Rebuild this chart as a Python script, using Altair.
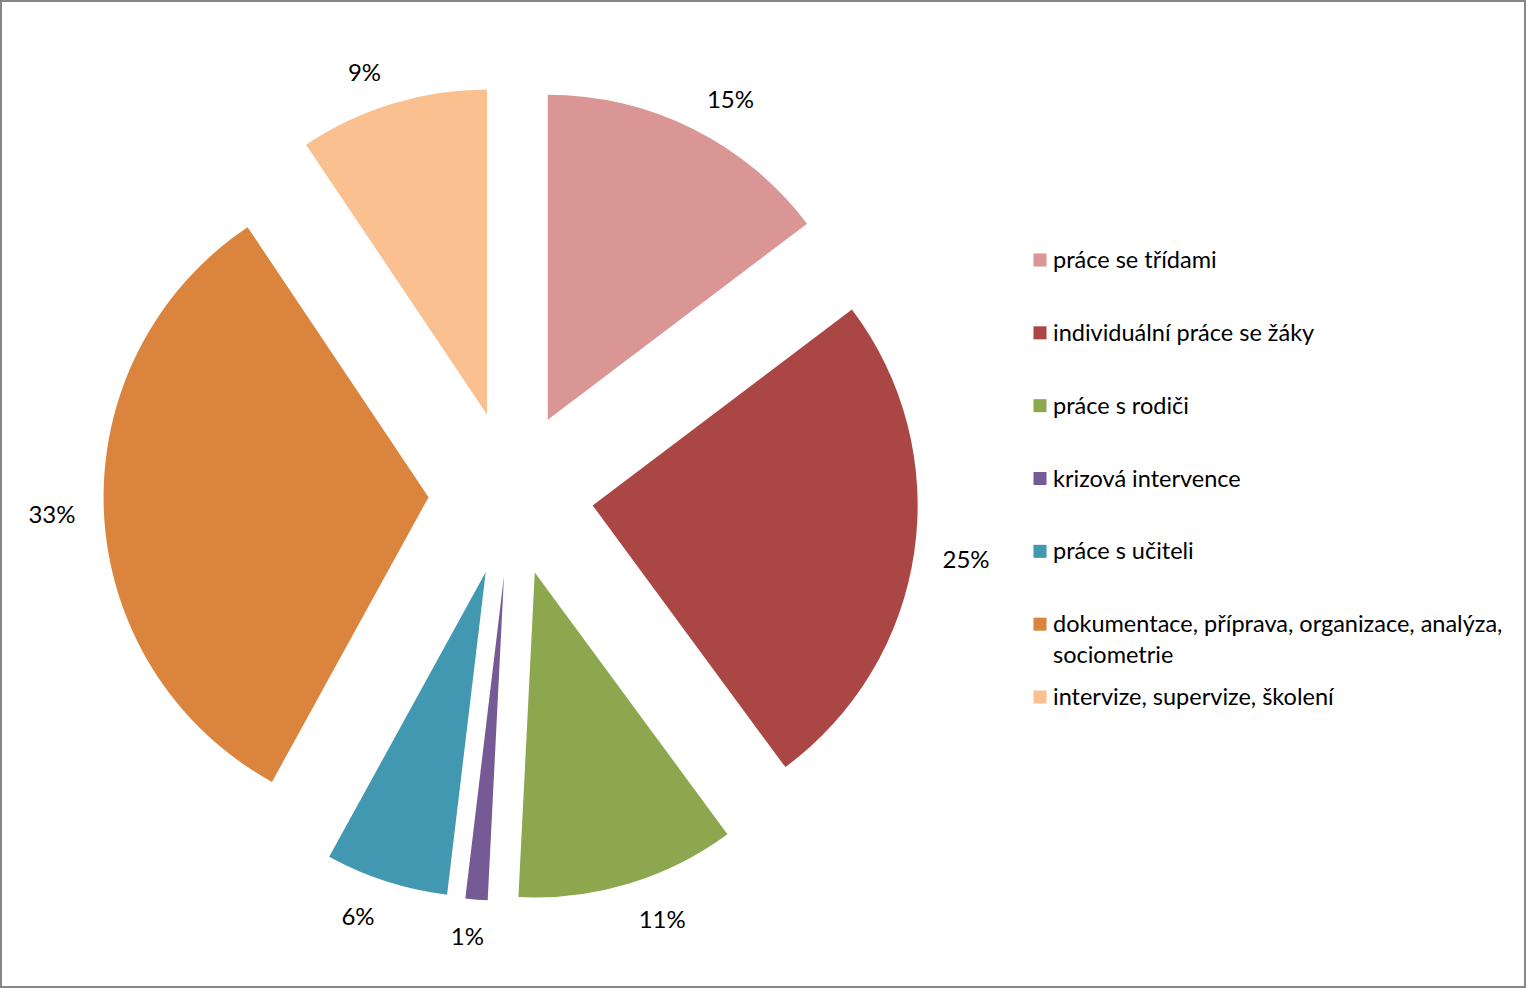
import altair as alt
import pandas as pd

categories = [
    "práce se třídami",
    "individuální práce se žáky",
    "práce s rodiči",
    "krizová intervence",
    "práce s učiteli",
    "dokumentace, příprava, organizace, analýza,\nsociometrie",
    "intervize, supervize, školení",
]
# shares (%); labels show them rounded
values = [14.7, 25.2, 10.9, 1.1, 6.1, 32.6, 9.4]
colors = ["#D99694", "#AA4644", "#8DA74F", "#765A95", "#4298B0", "#DB843D", "#FAC090"]

df = pd.DataFrame({"category": categories, "value": values, "order": list(range(len(values)))})

CX, CY = 511, 493.5    # pie centre (px)
R = 325                # slice radius
EXPLODE = 82.5         # explosion offset
G = 433                # label gap radius
FONT = "Lato"

base = (
    alt.Chart(df)
    .transform_window(cum="sum(value)", sort=[{"field": "order"}])
    .transform_joinaggregate(total="sum(value)")
    .transform_calculate(
        t0="2*PI*(datum.cum-datum.value)/datum.total",
        t1="2*PI*datum.cum/datum.total",
        pct="format(datum.value, '.0f') + '%'",
    )
    .transform_calculate(mid="(datum.t0+datum.t1)/2", hw="(17 + 12*length(datum.pct))/2")
    .transform_calculate(
        px=f"{CX}+{EXPLODE}*sin(datum.mid)",
        py=f"{CY}-{EXPLODE}*cos(datum.mid)",
        lx=f"{CX}+{G}*sin(datum.mid)+datum.hw*clamp(4*sin(datum.mid),-1,1)",
        ly=f"{CY}-({G}+9.5)*cos(datum.mid)",
    )
)

color_enc = alt.Color("category:N", scale=alt.Scale(domain=categories, range=colors), legend=None)

slices = base.mark_arc(outerRadius=R, stroke=None).encode(
    theta=alt.Theta("t0:Q", scale=None),
    theta2="t1:Q",
    x=alt.X("px:Q", scale=None),
    y=alt.Y("py:Q", scale=None),
    color=color_enc,
)

labels = base.mark_text(font=FONT, fontSize=24, color="black", dy=3.5).encode(
    x=alt.X("lx:Q", scale=None),
    y=alt.Y("ly:Q", scale=None),
    text="pct:N",
)

leg_y = alt.Y("category:N", sort=categories, axis=None,
              scale=alt.Scale(type="point", domain=categories, range=[260, 697], padding=0))

leg_sq = alt.Chart(df).mark_square(size=170, opacity=1).encode(
    x=alt.value(1040),
    y=leg_y,
    color=color_enc,
)
leg_txt = alt.Chart(df).mark_text(font=FONT, fontSize=23.5, align="left", baseline="top",
                                  dy=-11, lineBreak="\n", lineHeight=31, color="black").encode(
    x=alt.value(1053),
    y=leg_y,
    text="category:N",
)

legend = alt.layer(leg_sq, leg_txt)

chart = (
    alt.layer(slices, labels, legend)
    .resolve_scale(y="independent", x="independent")
    .properties(width=1526, height=988, autosize=alt.AutoSizeParams(type="none"), padding=0)
    .configure_view(stroke="#868686", strokeWidth=4)
)

chart.save("out.html", embed_options={"renderer": "svg", "actions": False})
